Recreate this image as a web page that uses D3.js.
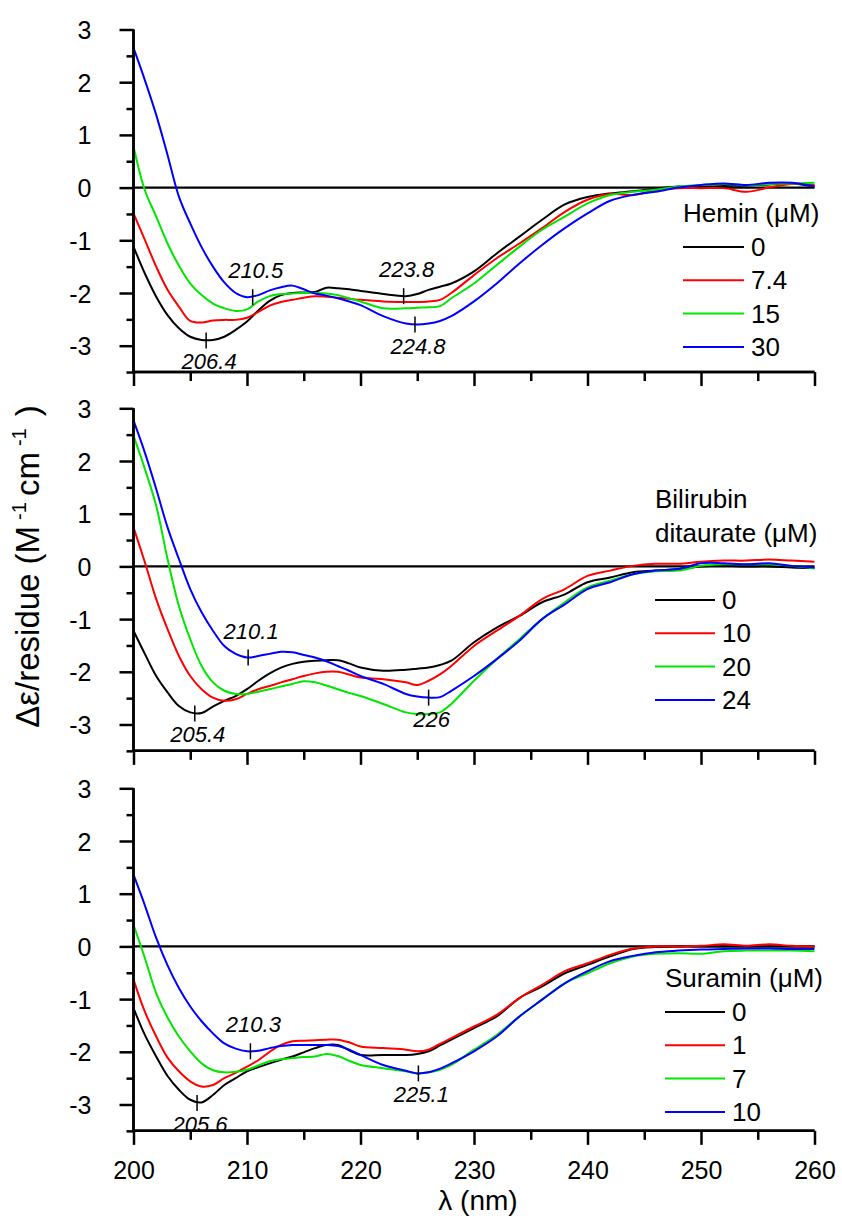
<!DOCTYPE html>
<html>
<head>
<meta charset="utf-8">
<script src="https://cdn.jsdelivr.net/npm/d3@7"></script>
<style>
  html, body { margin: 0; padding: 0; background: #fff; }
  svg { display: block; }
  text { font-family: Arial, "Liberation Sans", Helvetica, sans-serif; fill: #000; }
</style>
</head>
<body>
<svg id="chart" width="842" height="1221"></svg>
<script>
// ---------- DATA ----------
const wavelengths = [200,201,202,203,204,205,206,207,208,209,210,211,212,213,214,215,216,217,218,219,220,222,224,225,226,227,228,230,232,234,236,238,240,242,244,246,248,250,252,254,256,258,260];

// Panel 1: Hemin (µM)
const heminLabels = ["0", "7.4", "15", "30"];
const hemin0   = [-1.12,-1.63,-2.07,-2.42,-2.67,-2.83,-2.89,-2.89,-2.83,-2.7,-2.54,-2.33,-2.15,-2.04,-2.0,-1.99,-1.98,-1.9,-1.91,-1.93,-1.96,-2.02,-2.06,-2.02,-1.94,-1.88,-1.82,-1.59,-1.25,-0.93,-0.61,-0.32,-0.18,-0.11,-0.07,-0.02,0.02,0.02,0.03,0.04,0.06,0.08,0.02];
const hemin74  = [-0.49,-0.99,-1.5,-1.94,-2.26,-2.53,-2.56,-2.52,-2.51,-2.51,-2.47,-2.36,-2.24,-2.17,-2.13,-2.09,-2.06,-2.07,-2.09,-2.11,-2.13,-2.16,-2.17,-2.17,-2.16,-2.13,-2.0,-1.66,-1.34,-1.06,-0.77,-0.46,-0.23,-0.12,-0.14,-0.05,-0.01,-0.01,-0.01,-0.08,0.0,0.07,0.05];
const hemin15  = [0.78,-0.05,-0.55,-1.06,-1.48,-1.82,-2.04,-2.2,-2.29,-2.34,-2.31,-2.16,-2.06,-2.02,-2.01,-2.0,-2.0,-2.01,-2.04,-2.1,-2.16,-2.29,-2.29,-2.28,-2.27,-2.25,-2.1,-1.82,-1.47,-1.12,-0.8,-0.55,-0.3,-0.14,-0.08,-0.04,0.02,0.05,0.07,0.05,0.07,0.08,0.09];
const hemin30  = [2.65,2.04,1.38,0.62,-0.17,-0.68,-1.13,-1.5,-1.8,-2.0,-2.08,-2.04,-1.95,-1.89,-1.86,-1.93,-2.01,-2.05,-2.1,-2.16,-2.23,-2.44,-2.58,-2.6,-2.58,-2.53,-2.44,-2.16,-1.82,-1.44,-1.09,-0.77,-0.49,-0.25,-0.14,-0.08,0.0,0.05,0.08,0.05,0.09,0.09,0.02];

// Panel 2: Bilirubin ditaurate (µM)
const biliLabels = ["0", "10", "20", "24"];
const bili0  = [-1.22,-1.66,-2.08,-2.39,-2.65,-2.77,-2.78,-2.66,-2.55,-2.46,-2.33,-2.17,-2.03,-1.92,-1.85,-1.81,-1.79,-1.78,-1.78,-1.84,-1.92,-1.98,-1.96,-1.94,-1.92,-1.87,-1.79,-1.44,-1.16,-0.94,-0.68,-0.53,-0.3,-0.21,-0.11,-0.08,-0.05,0.0,0.01,0.0,0.0,-0.02,-0.03];
const bili10 = [0.74,0.08,-0.62,-1.19,-1.7,-2.08,-2.33,-2.49,-2.55,-2.52,-2.42,-2.33,-2.27,-2.2,-2.14,-2.08,-2.03,-2.0,-2.0,-2.05,-2.11,-2.14,-2.2,-2.25,-2.17,-2.05,-1.89,-1.51,-1.22,-0.94,-0.62,-0.43,-0.18,-0.08,0.01,0.05,0.05,0.09,0.11,0.11,0.13,0.11,0.09];
const bili20 = [2.48,1.85,1.15,0.14,-0.75,-1.38,-1.89,-2.2,-2.36,-2.42,-2.42,-2.38,-2.33,-2.28,-2.23,-2.18,-2.2,-2.26,-2.33,-2.4,-2.46,-2.61,-2.77,-2.8,-2.8,-2.77,-2.61,-2.17,-1.76,-1.38,-1.0,-0.68,-0.4,-0.27,-0.15,-0.09,-0.08,0.01,0.04,0.04,0.04,0.01,-0.04];
const bili24 = [2.77,2.16,1.47,0.74,0.14,-0.43,-0.87,-1.22,-1.51,-1.66,-1.73,-1.7,-1.66,-1.62,-1.63,-1.68,-1.73,-1.8,-1.89,-1.98,-2.08,-2.23,-2.42,-2.47,-2.49,-2.48,-2.36,-2.08,-1.76,-1.41,-1.0,-0.72,-0.43,-0.3,-0.15,-0.08,-0.05,0.06,0.06,0.04,0.06,0.01,-0.02];

// Panel 3: Suramin (µM)
const suraLabels = ["0", "1", "7", "10"];
const sura0  = [-1.17,-1.68,-2.09,-2.46,-2.72,-2.91,-2.96,-2.82,-2.63,-2.5,-2.37,-2.29,-2.22,-2.15,-2.09,-2.01,-1.93,-1.87,-1.87,-1.97,-2.06,-2.06,-2.06,-2.04,-1.99,-1.88,-1.77,-1.55,-1.33,-0.98,-0.76,-0.51,-0.35,-0.19,-0.05,-0.01,0.0,0.0,0.0,0.0,0.0,0.0,0.0];
const sura1  = [-0.63,-1.24,-1.71,-2.11,-2.37,-2.56,-2.66,-2.63,-2.5,-2.4,-2.28,-2.16,-2.0,-1.87,-1.8,-1.79,-1.78,-1.77,-1.77,-1.82,-1.9,-1.93,-1.96,-1.99,-1.96,-1.85,-1.74,-1.52,-1.3,-0.98,-0.73,-0.47,-0.32,-0.16,-0.04,0.0,0.0,0.01,0.04,0.01,0.04,0.01,0.0];
const sura7  = [0.41,-0.22,-0.89,-1.35,-1.71,-1.99,-2.22,-2.35,-2.39,-2.38,-2.34,-2.26,-2.18,-2.14,-2.12,-2.1,-2.09,-2.04,-2.08,-2.17,-2.25,-2.31,-2.37,-2.41,-2.39,-2.34,-2.25,-1.96,-1.68,-1.33,-1.01,-0.7,-0.51,-0.32,-0.19,-0.14,-0.13,-0.14,-0.09,-0.08,-0.08,-0.08,-0.09];
const sura10 = [1.36,0.78,0.16,-0.36,-0.79,-1.14,-1.42,-1.65,-1.84,-1.94,-1.99,-1.98,-1.93,-1.89,-1.87,-1.87,-1.87,-1.87,-1.89,-1.96,-2.06,-2.25,-2.36,-2.41,-2.39,-2.32,-2.22,-1.99,-1.71,-1.33,-1.01,-0.7,-0.47,-0.28,-0.18,-0.11,-0.08,-0.06,-0.05,-0.04,-0.04,-0.05,-0.05];

// Legend titles
const legendTitles = [["Hemin (\u03BCM)"], ["Bilirubin", "ditaurate (\u03BCM)"], ["Suramin (\u03BCM)"]];

// Peak annotations: [wavelength, value, label]
const heminMarks = [[206.4, -2.9, "206.4"], [210.5, -2.08, "210.5"], [223.8, -2.06, "223.8"], [224.8, -2.6, "224.8"]];
const biliMarks  = [[205.4, -2.79, "205.4"], [210.1, -1.73, "210.1"], [226, -2.49, "226"]];
const suraMarks  = [[205.6, -2.97, "205.6"], [210.3, -1.99, "210.3"], [225.1, -2.41, "225.1"]];
// label side for each annotation (above / below the curve)
const heminSides = ["below", "above", "above", "below"];
const biliSides  = ["below", "above", "below"];
const suraSides  = ["below", "above", "below"];

const seriesColors = ["#000000", "#ff0000", "#00e600", "#0000ff"];

const xTicksMajor = [200, 210, 220, 230, 240, 250, 260];
const yTickLabels = [3, 2, 1, 0, -1, -2, -3];

// ---------- LAYOUT ----------
const svg = d3.select("#chart");
const xLeft = 133.5, xRight = 814.5;
const panelTops = [29.5, 408.3, 788.3];
const unitPx = 52.7;
const panelH = 6.5 * unitPx;

const x = d3.scaleLinear().domain([200, 260]).range([xLeft, xRight]);

const panels = [
  { series: [hemin0, hemin74, hemin15, hemin30], labels: heminLabels, title: legendTitles[0], marks: heminMarks, sides: heminSides,
    legend: { x: 683, titleY: 222, firstY: 247, gap: 33.3, lineLen: 61 } },
  { series: [bili0, bili10, bili20, bili24], labels: biliLabels, title: legendTitles[1], marks: biliMarks, sides: biliSides,
    legend: { x: 655, titleY: 508, firstY: 600, gap: 33.3, lineLen: 60 } },
  { series: [sura0, sura1, sura7, sura10], labels: suraLabels, title: legendTitles[2], marks: suraMarks, sides: suraSides,
    legend: { x: 665, titleY: 987, firstY: 1012, gap: 33.3, lineLen: 60 } }
];

const fontStack = "Arial, 'Liberation Sans', sans-serif";

panels.forEach((p, i) => {
  const top = panelTops[i];
  const y = d3.scaleLinear().domain([-3.5, 3]).range([top + panelH, top]);
  const g = svg.append("g");

  // zero line
  g.append("line")
    .attr("x1", x(200)).attr("x2", x(260))
    .attr("y1", y(0)).attr("y2", y(0))
    .attr("stroke", "#000").attr("stroke-width", 2.2);

  // curves
  const line = d3.line()
    .x((d, k) => x(wavelengths[k]))
    .y(d => y(d))
    .curve(d3.curveCatmullRom.alpha(0.5));
  p.series.forEach((s, k) => {
    g.append("path")
      .datum(s)
      .attr("d", line)
      .attr("fill", "none")
      .attr("stroke", seriesColors[k])
      .attr("stroke-width", 2)
      .attr("stroke-linejoin", "round");
  });

  // Y axis (minor + major ticks)
  const yMinor = d3.axisLeft(y).tickValues(d3.range(-3.5, 3.01, 0.5).filter(v => Math.abs(v % 1) > 0.01)).tickSize(7).tickFormat("");
  const yMajor = d3.axisLeft(y).tickValues(yTickLabels).tickSize(14).tickPadding(28).tickFormat(d => String(d));
  [yMinor, yMajor].forEach(ax => {
    const ag = g.append("g").attr("transform", `translate(${xLeft},0)`).call(ax);
    ag.select(".domain").attr("stroke-width", 2.5).attr("d", `M0,${y(3)}V${y(-3.5)}`);
    ag.selectAll(".tick line").attr("stroke-width", 2.5);
    ag.selectAll("text").style("font-size", "25px").style("font-family", fontStack).attr("dy", "0.36em");
  });

  // X axis
  const xb = y(-3.5);
  const xMinor = d3.axisBottom(x).tickValues(d3.range(205, 260, 10)).tickSize(9).tickFormat("");
  const xMajor = d3.axisBottom(x).tickValues(xTicksMajor).tickSize(14).tickPadding(16)
    .tickFormat(i === 2 ? (d => String(d)) : "");
  [xMinor, xMajor].forEach(ax => {
    const ag = g.append("g").attr("transform", `translate(0,${xb})`).call(ax);
    ag.select(".domain").attr("stroke-width", 2.5).attr("d", `M${xLeft},0H${xRight}`);
    ag.selectAll(".tick line").attr("stroke-width", 2.5);
    ag.selectAll("text").style("font-size", "25px").style("font-family", fontStack);
  });

  // peak markers & labels
  p.marks.forEach((m, k) => {
    const mx = x(m[0]), my = y(m[1]);
    g.append("line").attr("x1", mx).attr("x2", mx).attr("y1", my - 8).attr("y2", my + 8)
      .attr("stroke", "#000").attr("stroke-width", 1.5);
    const above = p.sides[k] === "above";
    g.append("text")
      .attr("x", mx + 3).attr("y", above ? my - 19 : my + 29)
      .attr("text-anchor", "middle")
      .style("font-size", "22px").style("font-style", "italic")
      .text(m[2]);
  });

  // legend
  const L = p.legend;
  p.title.forEach((t, k) => {
    g.append("text").attr("x", L.x).attr("y", L.titleY + k * 34)
      .style("font-size", "26px").text(t);
  });
  p.labels.forEach((lab, k) => {
    const ly = L.firstY + k * L.gap;
    g.append("line").attr("x1", L.x).attr("x2", L.x + L.lineLen).attr("y1", ly).attr("y2", ly)
      .attr("stroke", seriesColors[k]).attr("stroke-width", 2);
    g.append("text").attr("x", L.x + L.lineLen + 7).attr("y", ly + 9)
      .style("font-size", "26px").text(lab);
  });
});

// Axis titles
svg.append("text")
  .attr("transform", "translate(39,566.5) rotate(-90)")
  .attr("text-anchor", "middle")
  .style("font-size", "33px")
  .html('\u0394\u03B5/residue (M<tspan dx="6" dy="-13" font-size="20">-1</tspan><tspan dx="6" dy="13">cm</tspan><tspan dx="6" dy="-13" font-size="20">-1</tspan><tspan dx="12" dy="13">)</tspan>');

svg.append("text")
  .attr("x", 478).attr("y", 1210)
  .attr("text-anchor", "middle")
  .style("font-size", "28px")
  .text("\u03BB (nm)");
</script>
</body>
</html>
